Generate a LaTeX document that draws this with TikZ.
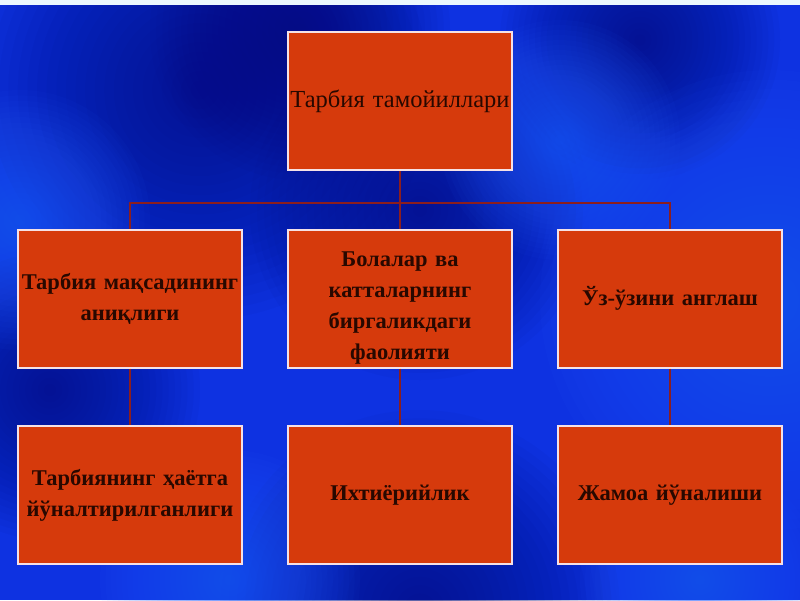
\documentclass[tikz,border=0pt]{standalone}
\usepackage{fontspec}
\setmainfont{Liberation Serif}
\definecolor{bgblue}{RGB}{14,50,225}
\definecolor{navy}{RGB}{4,12,120}
\definecolor{brightblue}{RGB}{40,100,255}
\definecolor{boxfill}{RGB}{214,58,12}
\definecolor{boxedge}{RGB}{245,225,230}
\definecolor{linkred}{RGB}{140,30,30}
\definecolor{txt}{RGB}{40,8,0}
\tikzset{
  box/.style={draw=boxedge, line width=2pt, fill=boxfill, rectangle,
    minimum width=224pt, minimum height=138pt, inner sep=1pt,
    text width=222pt, align=center, text=txt,
    font=\fontsize{22.5}{31}\selectfont\bfseries},
  link/.style={draw=linkred, line width=1.8pt}
}
\newcommand{\softblob}[4]{% color, x, y, radius
  \foreach \k in {1,...,24}{
    \fill[#1, opacity=0.045] (#2,#3) circle ({#4*\k/24});
  }}
\begin{document}
\begin{tikzpicture}[x=1pt,y=-1pt]
\useasboundingbox (0,0) rectangle (800,600);
% background
\fill[bgblue] (0,0) rectangle (800,600);
\begin{scope}
\clip (0,0) rectangle (800,600);
\softblob{navy}{200}{90}{230}
\softblob{navy}{300}{30}{150}
\softblob{navy}{420}{210}{170}
\softblob{navy}{50}{390}{150}
\softblob{navy}{420}{610}{200}
\softblob{navy}{640}{40}{140}
\softblob{brightblue}{770}{300}{230}
\softblob{brightblue}{20}{220}{130}
\softblob{brightblue}{560}{140}{120}
\softblob{brightblue}{230}{580}{130}
\softblob{brightblue}{700}{580}{120}
\end{scope}
\fill[white!92!cyan] (0,0) rectangle (800,5);
% nodes
\node[box, font=\fontsize{24.5}{30}\selectfont] (top) at (400,101) {\mbox{Тарбия тамойиллари}};
\node[box] (ml) at (130,298.5) {Тарбия мақсадининг\\аниқлиги};
\node[box] (mc) at (400,298.5) {\rule{0pt}{34pt}Болалар ва\\катталарнинг\\биргаликдаги\\фаолияти};
\node[box] (mr) at (670,298.5) {Ўз-ўзини англаш};
\node[box] (bl) at (130,495) {Тарбиянинг ҳаётга\\йўналтирилганлиги};
\node[box] (bc) at (400,495) {Ихтиёрийлик};
\node[box] (br) at (670,495) {Жамоа йўналиши};
% connectors
\coordinate (jl) at (130,203);
\coordinate (jr) at (670,203);
\draw[link] (top.south) -- (mc.north);
\draw[link] (ml.north) -- (jl) -- (jr) -- (mr.north);
\draw[link] (ml.south) -- (bl.north);
\draw[link] (mc.south) -- (bc.north);
\draw[link] (mr.south) -- (br.north);
\end{tikzpicture}
\end{document}
